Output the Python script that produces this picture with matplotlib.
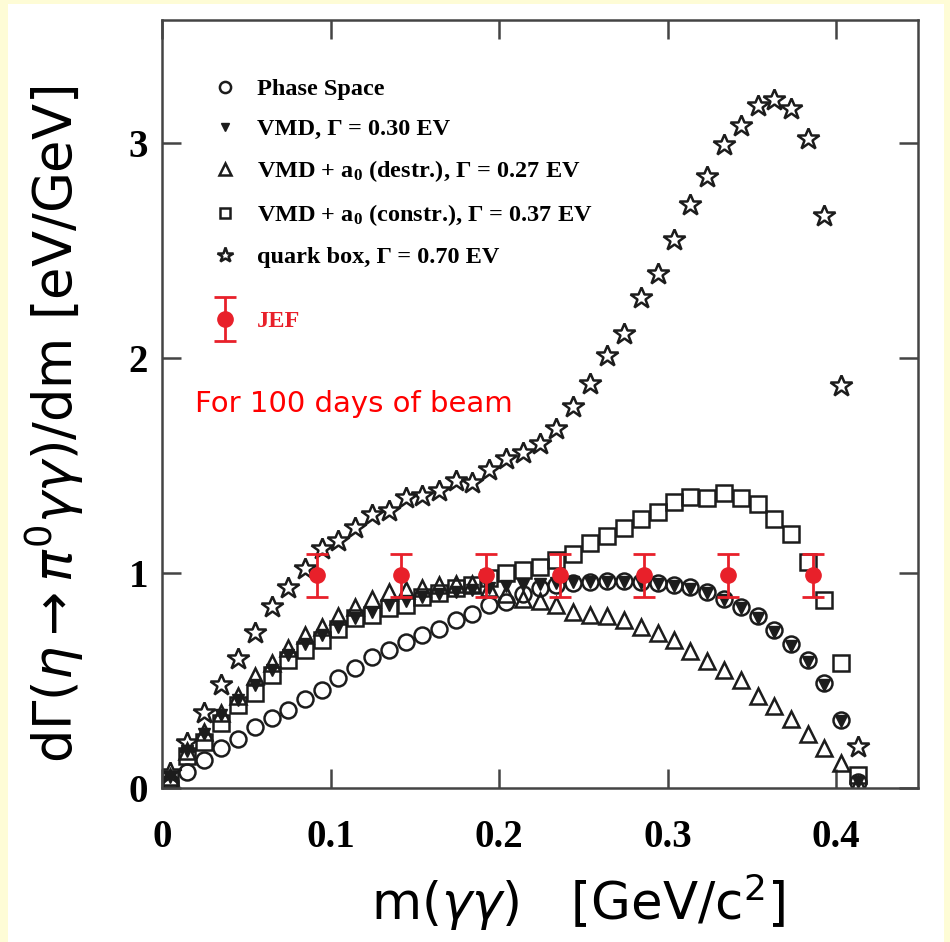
import matplotlib
matplotlib.use("Agg")
import matplotlib.pyplot as plt
from matplotlib.patches import Rectangle
from matplotlib.font_manager import FontProperties
from matplotlib.legend_handler import HandlerErrorbar

plt.rcParams["mathtext.fontset"] = "custom"
plt.rcParams["mathtext.rm"] = "Liberation Serif:bold"
plt.rcParams["mathtext.it"] = "Liberation Serif:bold"
plt.rcParams["mathtext.bf"] = "Liberation Serif:bold"

# bin centres of m(gamma gamma) [GeV]
m_gg = [0.005, 0.015, 0.025, 0.035, 0.045, 0.055, 0.065, 0.075, 0.085, 0.095,
        0.1045, 0.1145, 0.1245, 0.1345, 0.1445, 0.1545, 0.1645, 0.1745, 0.184, 0.194,
        0.204, 0.214, 0.224, 0.234, 0.244, 0.254, 0.264, 0.274, 0.284, 0.294,
        0.3035, 0.3135, 0.3235, 0.3335, 0.3435, 0.3535, 0.363, 0.373, 0.383, 0.393,
        0.403, 0.413]

phase_space = [0.03, 0.076, 0.13, 0.185, 0.23, 0.285, 0.325, 0.365, 0.415, 0.455,
               0.51, 0.557, 0.61, 0.64, 0.68, 0.71, 0.74, 0.78, 0.81, 0.85,
               0.867, 0.90, 0.93, 0.945, 0.955, 0.96, 0.965, 0.965, 0.96, 0.955,
               0.945, 0.935, 0.913, 0.88, 0.84, 0.80, 0.735, 0.67, 0.595, 0.487,
               0.316, 0.03]
vmd = [0.05, 0.17, 0.25, 0.34, 0.41, 0.48, 0.55, 0.62, 0.67, 0.71,
       0.75, 0.79, 0.82, 0.85, 0.87, 0.89, 0.90, 0.91, 0.92, 0.93,
       0.94, 0.945, 0.95, 0.955, 0.96, 0.96, 0.96, 0.96, 0.955, 0.95,
       0.94, 0.925, 0.905, 0.875, 0.835, 0.79, 0.725, 0.66, 0.585, 0.48,
       0.31, 0.03]
vmd_destr = [0.05, 0.17, 0.26, 0.35, 0.43, 0.52, 0.58, 0.65, 0.71, 0.75,
             0.80, 0.843, 0.88, 0.91, 0.92, 0.93, 0.944, 0.95, 0.95, 0.93,
             0.90, 0.88, 0.87, 0.85, 0.82, 0.805, 0.80, 0.78, 0.75, 0.72,
             0.69, 0.635, 0.59, 0.55, 0.50, 0.43, 0.38, 0.32, 0.25, 0.185,
             0.115, 0.02]
vmd_constr = [0.04, 0.15, 0.215, 0.30, 0.386, 0.44, 0.525, 0.595, 0.64, 0.69,
              0.74, 0.79, 0.805, 0.836, 0.85, 0.89, 0.905, 0.93, 0.944, 0.975,
              1.0, 1.014, 1.03, 1.06, 1.09, 1.14, 1.17, 1.21, 1.25, 1.285,
              1.33, 1.355, 1.35, 1.37, 1.35, 1.32, 1.25, 1.18, 1.05, 0.875,
              0.58, 0.06]
quark_box = [0.07, 0.21, 0.35, 0.48, 0.60, 0.72, 0.84, 0.93, 1.02, 1.11,
             1.15, 1.21, 1.27, 1.29, 1.35, 1.36, 1.38, 1.43, 1.42, 1.48,
             1.53, 1.56, 1.60, 1.67, 1.77, 1.88, 2.01, 2.11, 2.28, 2.39,
             2.55, 2.71, 2.84, 2.99, 3.08, 3.17, 3.20, 3.16, 3.02, 2.66,
             1.87, 0.19]

jef_x = [0.092, 0.142, 0.192, 0.236, 0.286, 0.336, 0.386]
jef_y = [0.99, 0.99, 0.99, 0.99, 0.99, 0.99, 0.99]
jef_err = [0.1, 0.1, 0.1, 0.1, 0.1, 0.1, 0.1]

labels = ["Phase Space",
          "VMD, \u0393 = 0.30 EV",
          "VMD + a$_0$ (destr.), \u0393 = 0.27 EV",
          "VMD + a$_0$ (constr.), \u0393 = 0.37 EV",
          "quark box, \u0393 = 0.70 EV"]

RED = "#e8202a"
INK = "#1c1c1c"
SPINE = "#444444"

fig = plt.figure(figsize=(9.5, 9.42), dpi=100, facecolor="#fefcd6")
fig.patches.append(Rectangle((8 / 950, 0), 936 / 950, 938 / 942,
                             transform=fig.transFigure, facecolor="white",
                             edgecolor="none", zorder=-1))
ax = fig.add_axes([162 / 950, 154 / 942, 756 / 950, 768 / 942])

common = dict(linestyle="none", markeredgecolor=INK, markeredgewidth=1.8)
h_ps, = ax.plot(m_gg, phase_space, marker="o", markersize=11.5,
                markerfacecolor="none", **common)
h_de, = ax.plot(m_gg, vmd_destr, marker="^", markersize=12,
                markerfacecolor="none", **common)
h_co, = ax.plot(m_gg, vmd_constr, marker="s", markersize=11,
                markerfacecolor="none", **common)
h_qb, = ax.plot(m_gg, quark_box, marker="*", markersize=16.5,
                markerfacecolor="none", **common)
h_vm, = ax.plot(m_gg, vmd, marker="v", markersize=9,
                markerfacecolor=INK, linestyle="none",
                markeredgecolor=INK, markeredgewidth=1)
h_jef = ax.errorbar(jef_x, jef_y, yerr=jef_err, fmt="o", color=RED,
                    markersize=11, elinewidth=2, capsize=8, capthick=2,
                    zorder=5)

ax.set_xlim(0, 0.4485)
ax.set_ylim(0, 3.572)
ax.set_xticks([0, 0.1, 0.2, 0.3, 0.4])
ax.set_xticklabels(["0", "0.1", "0.2", "0.3", "0.4"])
ax.set_yticks([0, 1, 2, 3])

tick_font = FontProperties(family="Liberation Serif", weight="bold", size=28)
for lab in ax.get_xticklabels() + ax.get_yticklabels():
    lab.set_fontproperties(tick_font)
ax.tick_params(direction="in", length=14, width=1.8, color=SPINE,
               top=True, right=True)
ax.tick_params(axis="x", pad=22)
ax.tick_params(axis="y", pad=10)
for sp in ax.spines.values():
    sp.set_color(SPINE)
    sp.set_linewidth(1.8)

ax.set_ylabel(r"d$\Gamma(\eta\rightarrow\pi^0\gamma\gamma)$/dm [eV/GeV]",
              fontsize=38, family="DejaVu Sans", math_fontfamily="dejavusans")
ax.yaxis.set_label_coords(-0.10, 0.473)
ax.set_xlabel(r"m$(\gamma\gamma)$   [GeV/c$^2$]", fontsize=37,
              family="DejaVu Sans", math_fontfamily="dejavusans")
ax.xaxis.set_label_coords(0.55, -0.108)

leg_font = FontProperties(family="Liberation Serif", weight="bold", size=17.5,
                          math_fontfamily="custom")
leg1 = ax.legend([h_ps, h_vm, h_de, h_co, h_qb], labels, prop=leg_font,
                 loc="upper left", bbox_to_anchor=(0.0675, 0.924),
                 frameon=False, borderpad=0, borderaxespad=0,
                 handlelength=1.0, handletextpad=0.8, labelspacing=0.74,
                 markerscale=0.7)
ax.add_artist(leg1)
ax.legend([h_jef], ["JEF"], prop=leg_font, labelcolor=RED,
          loc="upper left", bbox_to_anchor=(0.0675, 0.622),
          frameon=False, borderpad=0, borderaxespad=0,
          handlelength=1.0, handletextpad=0.8,
          handler_map={type(h_jef): HandlerErrorbar(yerr_size=0.9)})

ax.text(0.043, 0.5, "For 100 days of beam", transform=ax.transAxes,
        color="red", fontsize=21, family="DejaVu Sans", va="center")

fig.savefig("out.png", dpi=100, facecolor=fig.get_facecolor())
